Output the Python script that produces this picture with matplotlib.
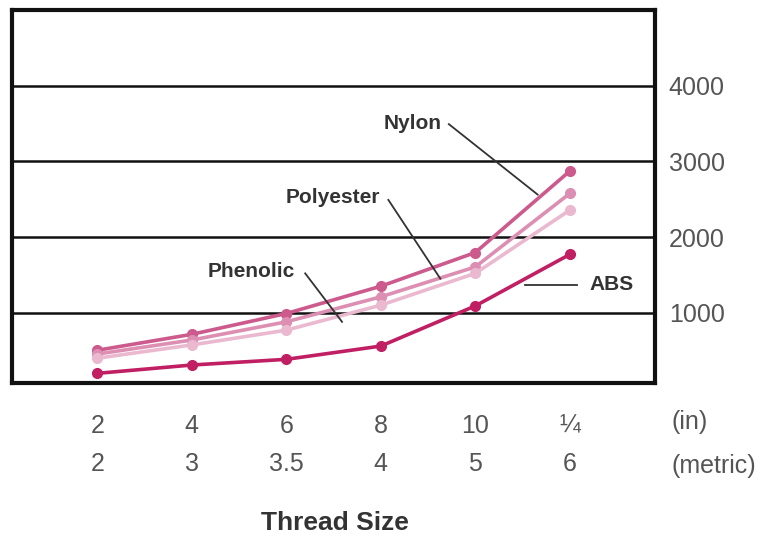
import matplotlib

matplotlib.use("Agg")
import matplotlib.pyplot as plt
from matplotlib.transforms import blended_transform_factory

plt.rcParams["font.family"] = ["Liberation Sans Narrow", "Liberation Sans", "DejaVu Sans"]

# thread sizes (two scales) and pull-out strength per material
inch_sizes = ["2", "4", "6", "8", "10", "¼"]
metric_sizes = ["2", "3", "3.5", "4", "5", "6"]
y_ticks = [1000, 2000, 3000, 4000]

nylon = [505, 715, 990, 1350, 1795, 2870]
polyester = [455, 640, 880, 1210, 1605, 2575]
phenolic = [400, 575, 770, 1100, 1520, 2355]
abs_ = [200, 310, 385, 560, 1090, 1770]

series = [
    ("Nylon", nylon, "#cc5a8c"),
    ("Polyester", polyester, "#dc8fb2"),
    ("Phenolic", phenolic, "#eab9cf"),
    ("ABS", abs_, "#c01f63"),
]

# label text position, leader start, leader end (data coords)
labels = {
    "Nylon": ((3.34, 3500), (3.72, 3490), (4.66, 2560)),
    "Polyester": ((2.49, 2520), (3.08, 2490), (3.63, 1450)),
    "Phenolic": ((1.63, 1540), (2.2, 1520), (2.59, 880)),
    "ABS": ((5.44, 1370), (5.08, 1370), (4.53, 1370)),
}

fig = plt.figure(figsize=(7.65, 5.42), dpi=100)
ax = fig.add_axes([0.016, 0.293, 0.84, 0.689])

x = list(range(len(inch_sizes)))
for name, vals, col in series:
    ax.plot(x, vals, color=col, lw=2.6, marker="o", ms=7, zorder=3)

for name, (txt, p0, p1) in labels.items():
    ha = "left" if name == "ABS" else "center"
    ax.text(txt[0], txt[1], name, fontsize=15, fontweight="bold", color="#333333",
            ha=ha if name != "ABS" else "center", va="center", zorder=5)
    ax.plot([p0[0], p1[0]], [p0[1], p1[1]], color="#333333", lw=1.3, zorder=4)

ax.set_xlim(-0.9, 5.9)
ax.set_ylim(70, 5000)
ax.set_yticks(y_ticks)
ax.yaxis.tick_right()
ax.tick_params(axis="y", length=0, pad=10, labelsize=18, labelcolor="#555555")
ax.grid(axis="y", color="#111111", lw=1.8, zorder=1)
ax.set_axisbelow(True)

ax.set_xticks(x, labels=[f"{a}\n{b}" for a, b in zip(inch_sizes, metric_sizes)])
for t in ax.get_xticklabels():
    t.set_linespacing(1.75)
ax.tick_params(axis="x", length=0, pad=22, labelsize=18, labelcolor="#555555")

for s in ax.spines.values():
    s.set_linewidth(3)
    s.set_color("#111111")

tr = blended_transform_factory(ax.transData, ax.transAxes)
ax.text(6.08, -0.105, "(in)", transform=tr, fontsize=18, color="#555555",
        ha="left", va="center", clip_on=False)
ax.text(6.08, -0.222, "(metric)", transform=tr, fontsize=18, color="#555555",
        ha="left", va="center", clip_on=False)
ax.text(2.52, -0.375, "Thread Size", transform=tr, fontsize=19, fontweight="bold",
        color="#333333", ha="center", va="center", clip_on=False)

fig.savefig("out.png", dpi=100)
